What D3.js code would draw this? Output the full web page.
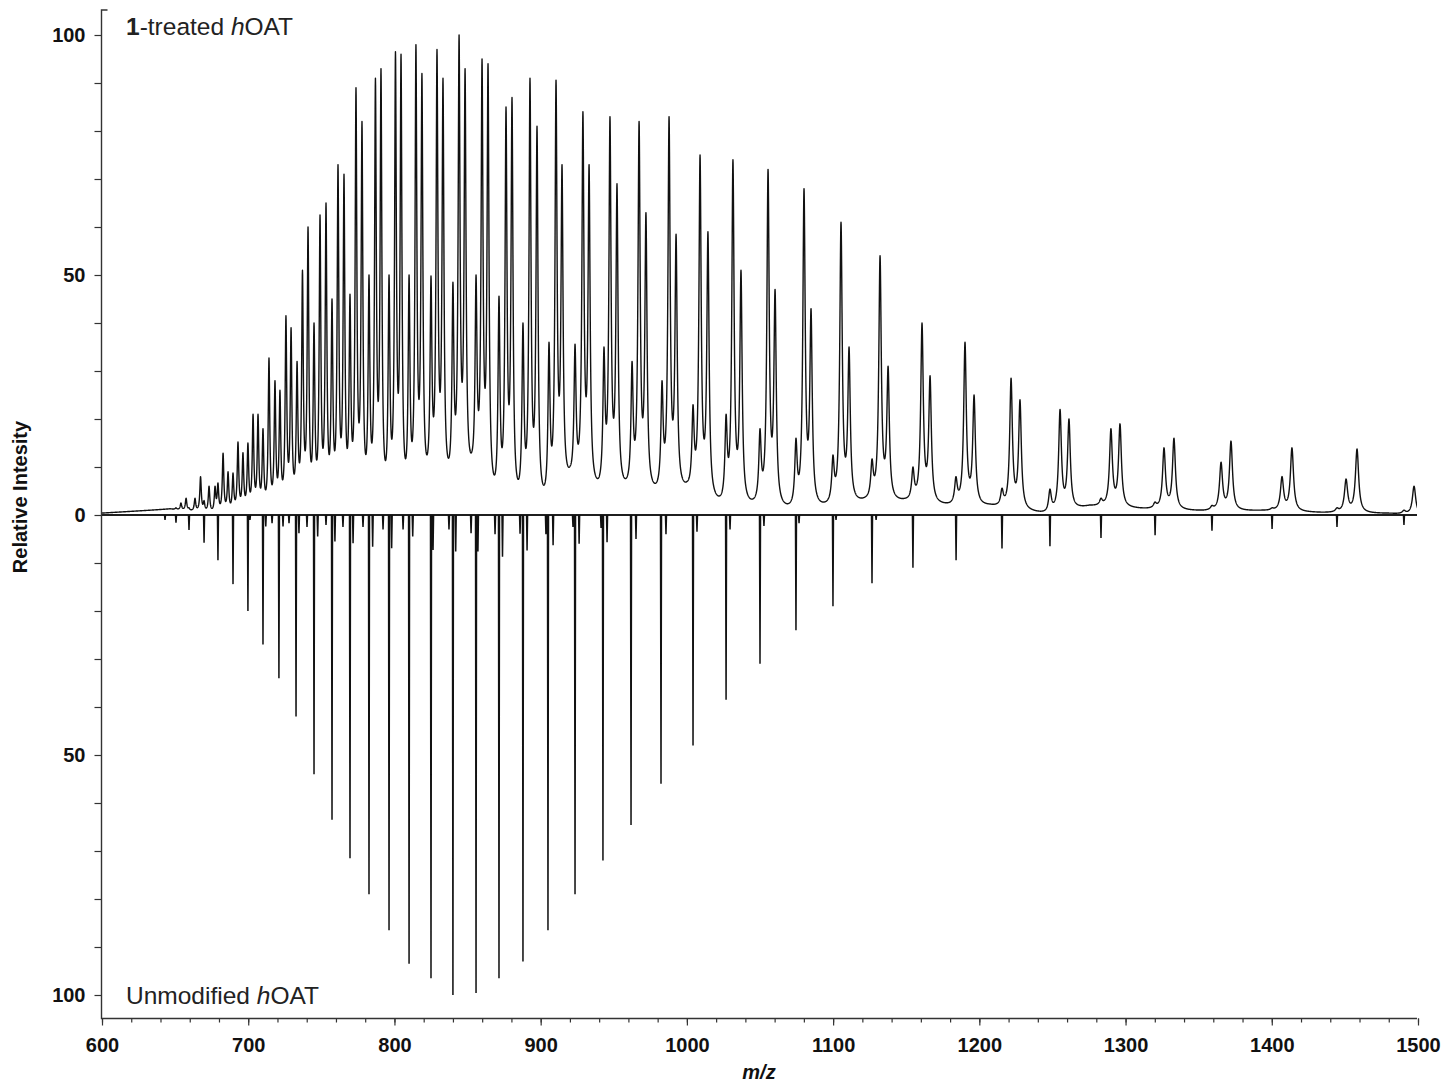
<!DOCTYPE html>
<html>
<head>
<meta charset="utf-8">
<script src="https://cdn.jsdelivr.net/npm/d3@7"></script>
<style>
  html, body { margin: 0; padding: 0; background: #fff; }
  svg { display: block; font-family: "Liberation Sans", Arial, Helvetica, sans-serif; }
</style>
</head>
<body>
<svg id="chart" width="1445" height="1082"></svg>
<script>
// ---------------- data ----------------
// Unmodified hOAT: charge-state envelope (m/z, relative intensity %)
const unmodMz  = [650.6, 659.5, 669.8, 679.3, 689.6, 699.8, 710.1, 721.0, 732.7, 745.0,
                  757.3, 769.6, 782.6, 796.3, 810.0, 825.0, 840.0, 855.8, 871.5, 887.9,
                  905.0, 923.5, 942.6, 961.8, 982.3, 1004.2, 1026.8, 1050.0, 1074.6, 1099.9,
                  1126.6, 1154.6, 1184.1, 1215.5, 1248.3, 1283.2, 1320.2, 1359.1, 1400.2, 1444.6,
                  1490.4];
const unmodInt = [1.6, 3.1, 5.8, 9.4, 14.4, 20, 27, 34, 42, 54,
                  63.5, 71.5, 79, 86.5, 93.5, 96.5, 100, 99.6, 96.5, 93,
                  86.5, 79, 72, 64.6, 56, 48, 38.5, 31, 24, 19,
                  14.2, 11, 9.4, 7, 6.5, 4.8, 4.2, 3.3, 2.9, 2.5,
                  2.1];

// Unmodified hOAT: small satellite / adduct ions beside the main ions
const unmodMinorMz  = [643.1, 701.2, 712.0, 716.3, 723.8, 727.9, 734.7, 740.2, 747.5, 753.2,
                       759.3, 764.8, 771.7, 778.5, 785.1, 792.2, 798.1, 805.9, 812.5, 826.4,
                       837.3, 841.9, 852.4, 857.1, 868.8, 873.9, 885.9, 890.7, 903.6, 908.5,
                       922.1, 926.3, 941.3, 945.4, 965.2, 985.7, 1006.9, 1029.5, 1052.7, 1076.7,
                       1102.0, 1129.4];
const unmodMinorInt = [1, 1, 2.4, 1.7, 2.4, 1.7, 3.8, 2.5, 4.5, 2.1,
                       5.5, 2.5, 5.9, 2.5, 6.6, 3, 6.9, 3, 4.5, 7.3,
                       3, 7.6, 3.8, 7.6, 4, 8.7, 3.9, 7.4, 4, 6.3,
                       2.5, 6, 2.7, 5.7, 5, 4, 3.5, 3, 2.3, 1.7,
                       1, 1];

// 1-treated hOAT: each charge state = remaining unmodified ion + two adduct ions (apex heights, %)
const treatedUnmodMz  = [650.6, 659.5, 669.8, 679.3, 689.6, 699.8, 710.1, 721.7, 733.4, 745.0,
                         757.3, 769.6, 782.6, 796.3, 810.0, 825.0, 840.0, 855.8, 871.5, 887.9,
                         905.7, 923.5, 943.3, 962.5, 983.0, 1004.2, 1026.8, 1050.0, 1074.6, 1099.9,
                         1126.6, 1154.6, 1184.0, 1215.5, 1248.3, 1283.2, 1320.1, 1359.1, 1400.2, 1444.6,
                         1490.4];
const treatedUnmodInt = [1.5, 1.5, 3, 6.7, 8.75, 15, 18, 26, 32, 40,
                         45, 46, 50, 50, 50, 49.8, 48.5, 50, 45.6, 40,
                         36, 35.6, 35, 32, 28, 23, 21, 18, 16, 12.5,
                         11.7, 10, 8, 5.6, 5.4, 3.5, 2.7, 2, 1.5, 1.5,
                         1];
const adduct1Mz  = [654.0, 663.6, 673.2, 682.8, 693.0, 703.3, 714.2, 725.8, 737.1, 749.1,
                    761.4, 773.7, 787.0, 800.7, 814.7, 829.1, 844.2, 859.9, 876.3, 892.7,
                    910.5, 928.9, 947.4, 967.3, 987.8, 1009.0, 1031.5, 1055.5, 1080.1, 1105.4,
                    1132.1, 1160.8, 1190.2, 1221.7, 1255.2, 1290.0, 1326.3, 1365.3, 1407.0, 1450.8,
                    1497.3];
const adduct1Int = [2.5, 3.5, 6, 12.9, 15.2, 21, 32.7, 41.5, 51, 62.5,
                    73, 89, 91, 96.5, 98, 97, 100, 95, 85, 91,
                    90.6, 84, 83, 82, 83, 75, 74, 72, 68, 61,
                    54, 40, 36, 28.5, 22, 18, 14, 11, 8, 7.5,
                    6];
const adduct2Mz  = [657.5, 667.4, 677.3, 686.2, 696.4, 706.7, 718.3, 729.3, 740.9, 753.2,
                    765.5, 777.8, 790.8, 804.5, 818.8, 833.2, 848.3, 864.0, 880.4, 897.5,
                    914.6, 933.1, 952.2, 972.0, 992.6, 1014.4, 1037.0, 1060.3, 1084.9, 1110.9,
                    1137.6, 1166.3, 1196.4, 1227.8, 1261.3, 1296.2, 1333.1, 1372.1, 1413.8, 1458.3];
const adduct2Int = [3.5, 8, 6, 9, 13, 21, 28, 39, 60, 65,
                    71, 82, 93, 96, 92, 91, 93, 94, 87, 81,
                    73, 73, 69, 63, 58.5, 59, 51, 47, 43, 35,
                    31, 29, 25, 24, 20, 19, 16, 15.4, 14, 13.75];

// 1-treated hOAT: trace level in the troughs between charge states (%)
const troughMz  = [600.0, 632.8, 646.5, 678.3, 688.9, 698.5, 708.7, 720.0, 732.0, 743.6,
                   755.6, 768.2, 781.2, 794.9, 808.6, 822.9, 838.0, 853.0, 870.1, 886.5,
                   904.3, 920.1, 939.9, 959.0, 979.6, 1000.1, 1024.0, 1047.9, 1072.6, 1097.9,
                   1121.8, 1149.2, 1179.9, 1207.3, 1246.3, 1275.7, 1314.7, 1353.0, 1394.0, 1435.0,
                   1480.8, 1500.0];
const troughInt = [0.4, 1.0, 1.3, 2.5, 4.2, 4.6, 5.8, 7.3, 9.8, 9.8,
                   11.5, 14.6, 14.6, 15, 13.1, 13.5, 13.5, 13.3, 12.7, 9.8,
                   9, 10.2, 7.9, 7.9, 7, 7, 4.8, 5.4, 4.6, 4.6,
                   3.75, 3.5, 2.7, 2.3, 1.25, 2.1, 1.5, 1.04, 1.04, 0.6,
                   0.4, 0.6];

// axis ticks
const xMajorTicks = [600, 700, 800, 900, 1000, 1100, 1200, 1300, 1400, 1500];
const yTickValues = [-100, -90, -80, -70, -60, -50, -40, -30, -20, -10, 0,
                     10, 20, 30, 40, 50, 60, 70, 80, 90, 100];
const yTickLabels = [0, 50, 100];

// ---------------- layout ----------------
const svg = d3.select("#chart");
const x = d3.scaleLinear().domain([600, 1500]).range([102, 1418]);
const yTop = d3.scaleLinear().domain([0, 100]).range([515, 35]);
const yBot = d3.scaleLinear().domain([0, 100]).range([515, 995]);
const yAll = d3.scaleLinear().domain([-100, 100]).range([995, 35]);
const axisX = 101.5, axisY = 1018.5, axisTop = 10, plotRight = 1417;
const ink = "#111";

svg.append("defs").append("clipPath").attr("id", "plotClip")
  .append("rect").attr("x", 102).attr("y", 0).attr("width", plotRight - 102).attr("height", axisY);

// ---------------- treated spectrum (profile) ----------------
const peaks = [];
treatedUnmodMz.forEach((m, i) => peaks.push({ c: m, h: treatedUnmodInt[i] }));
adduct1Mz.forEach((m, i) => peaks.push({ c: m, h: adduct1Int[i] }));
adduct2Mz.forEach((m, i) => peaks.push({ c: m, h: adduct2Int[i] }));
peaks.sort((a, b) => a.c - b.c);

const halfWidth = c => 0.0009 * c;                    // instrument peak half-width (m/z)
const lorentz = (d, w) => (w * w) / (w * w + d * d);

let amp = peaks.map(p => p.h);
function tailSum(mz, skip) {
  let s = 0;
  for (let j = 0; j < peaks.length; j++) {
    if (j === skip) continue;
    const d = mz - peaks[j].c;
    if (d > -80 && d < 80) s += amp[j] * lorentz(d, halfWidth(peaks[j].c));
  }
  return s;
}
// background under the peaks and peak amplitudes, so that apexes and troughs sit at their levels
let bgScale = d3.scaleLinear().domain(troughMz).range(troughInt).clamp(true);
for (let it = 0; it < 40; it++) {
  const bg = troughMz.map((m, k) => Math.max(0, troughInt[k] - tailSum(m, -1)));
  bgScale = d3.scaleLinear().domain(troughMz).range(bg).clamp(true);
  const next = peaks.map((p, i) => Math.max(0, p.h - bgScale(p.c) - tailSum(p.c, i)));
  amp = amp.map((a, i) => 0.5 * a + 0.5 * next[i]);
}
const profile = d3.range(6000, 15001).map(k => {
  const mz = k / 10;
  return [mz, bgScale(mz) + tailSum(mz, -1)];
});

svg.append("path")
  .datum(profile)
  .attr("clip-path", "url(#plotClip)")
  .attr("fill", "none")
  .attr("stroke", ink)
  .attr("stroke-width", 1.4)
  .attr("stroke-linejoin", "round")
  .attr("d", d3.line().x(d => x(d[0])).y(d => yTop(d[1])));

// ---------------- unmodified spectrum (centroid-like, drawn downward) ----------------
const sticks = [];
unmodMz.forEach((m, i) => sticks.push({ c: m, h: unmodInt[i] }));
unmodMinorMz.forEach((m, i) => sticks.push({ c: m, h: unmodMinorInt[i] }));
sticks.sort((a, b) => a.c - b.c);
const stickPts = [[600, 0]];
sticks.forEach(s => { stickPts.push([s.c - 0.35, 0], [s.c, s.h], [s.c + 0.35, 0]); });
stickPts.push([1500, 0]);

svg.append("path")
  .datum(stickPts)
  .attr("clip-path", "url(#plotClip)")
  .attr("fill", "none")
  .attr("stroke", ink)
  .attr("stroke-width", 1.5)
  .attr("stroke-linejoin", "miter")
  .attr("d", d3.line().x(d => x(d[0])).y(d => yBot(d[1])));

// zero line
svg.append("line")
  .attr("x1", axisX).attr("x2", plotRight)
  .attr("y1", yTop(0)).attr("y2", yTop(0))
  .attr("stroke", ink).attr("stroke-width", 1.4);

// ---------------- axes ----------------
const yAxis = d3.axisLeft(yAll)
  .tickValues(yTickValues)
  .tickSize(7)
  .tickPadding(9)
  .tickFormat(d => yTickLabels.includes(Math.abs(d)) ? String(Math.abs(d)) : "");
const gy = svg.append("g").attr("transform", `translate(${axisX},0)`).call(yAxis);
gy.select(".domain").remove();
gy.selectAll(".tick line").attr("stroke", "#333").attr("stroke-width", 1.2);
gy.selectAll(".tick text")
  .attr("fill", "#111").style("font-size", "20px").style("font-weight", "bold")
  .style("font-family", "'Liberation Sans', Arial, sans-serif");

const xMinor = d3.axisBottom(x).tickValues(d3.range(600, 1501, 20)).tickSize(4).tickFormat("");
const gxm = svg.append("g").attr("transform", `translate(0,${axisY})`).call(xMinor);
gxm.select(".domain").remove();
gxm.selectAll(".tick line").attr("stroke", "#333").attr("stroke-width", 1.2);

const xAxis = d3.axisBottom(x).tickValues(xMajorTicks).tickSize(7).tickPadding(12).tickFormat(d3.format("d"));
const gx = svg.append("g").attr("transform", `translate(0,${axisY})`).call(xAxis);
gx.select(".domain").remove();
gx.selectAll(".tick line").attr("stroke", "#333").attr("stroke-width", 1.2);
gx.selectAll(".tick text")
  .attr("fill", "#111").style("font-size", "20px").style("font-weight", "bold")
  .style("font-family", "'Liberation Sans', Arial, sans-serif");

// axis lines (y axis closes with a short cap at the top)
svg.append("path")
  .attr("d", `M${axisX + 6},${axisTop} H${axisX} V${axisY} H${plotRight}`)
  .attr("fill", "none").attr("stroke", "#333").attr("stroke-width", 1.4);

// ---------------- titles ----------------
svg.append("text")
  .attr("x", 759).attr("y", 1079)
  .attr("text-anchor", "middle")
  .style("font-size", "20px").style("font-weight", "bold").style("font-style", "italic")
  .attr("fill", "#111")
  .text("m/z");

svg.append("text")
  .attr("transform", "translate(27,497) rotate(-90)")
  .attr("text-anchor", "middle")
  .style("font-size", "20px").style("font-weight", "bold")
  .attr("fill", "#111")
  .text("Relative Intesity");

const topLabel = svg.append("text").attr("x", 126).attr("y", 35)
  .style("font-size", "24.5px").attr("fill", "#222");
topLabel.append("tspan").style("font-weight", "bold").text("1");
topLabel.append("tspan").text("-treated ");
topLabel.append("tspan").style("font-style", "italic").text("h");
topLabel.append("tspan").text("OAT");

const botLabel = svg.append("text").attr("x", 126).attr("y", 1004)
  .style("font-size", "24.5px").attr("fill", "#222");
botLabel.append("tspan").text("Unmodified ");
botLabel.append("tspan").style("font-style", "italic").text("h");
botLabel.append("tspan").text("OAT");
</script>
</body>
</html>
